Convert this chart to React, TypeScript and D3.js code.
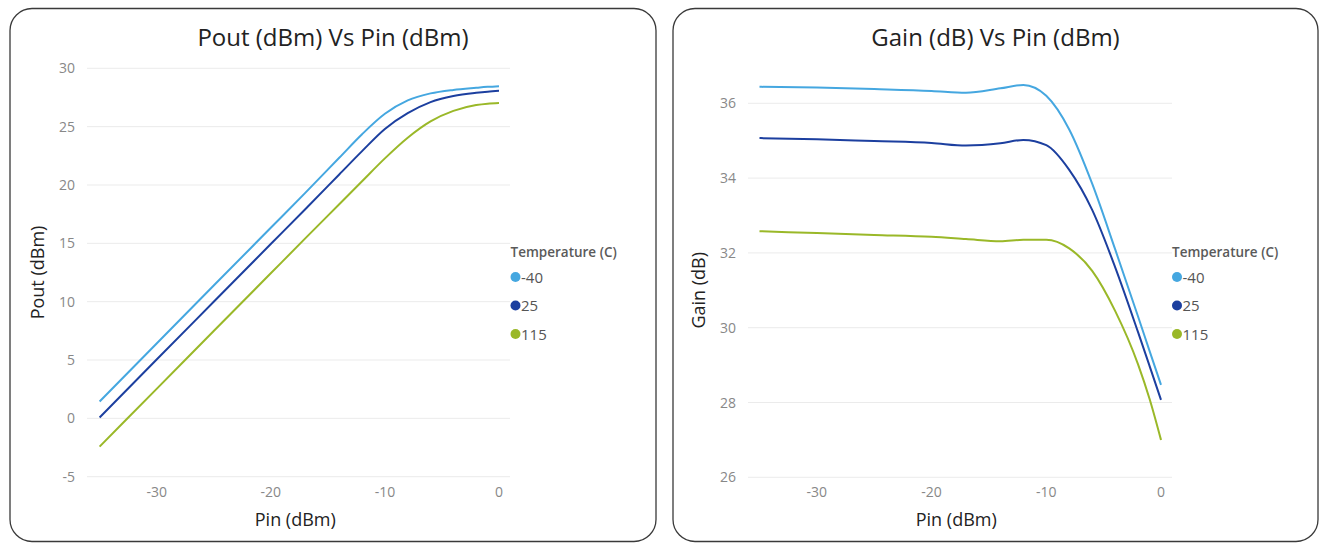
import React from "react";
import * as d3 from "d3";

// ---- data ----
const PIN = [-35, -30, -25, -20, -17, -14, -12, -10, -8, -6, -4, -2, -1, 0];
const TEMPS = ["-40", "25", "115"];
const COLORS = ["#45a7e0", "#1c3f9f", "#9ab828"];

const POUT_M40 = [1.44, 6.42, 11.38, 16.33, 19.3, 22.33, 24.35, 26.1, 27.25, 27.85, 28.15, 28.33, 28.41, 28.47];
const POUT_25 = [0.07, 5.04, 9.99, 14.94, 17.9, 20.9, 22.9, 24.8, 26.15, 27.1, 27.62, 27.9, 28.0, 28.07];
const POUT_115 = [-2.42, 2.53, 7.48, 12.43, 15.4, 18.35, 20.32, 22.28, 24.05, 25.45, 26.35, 26.85, 26.97, 27.02];

const GAIN_M40 = [36.44, 36.42, 36.38, 36.33, 36.28, 36.4, 36.49, 36.2, 35.3, 33.85, 32.1, 30.3, 29.38, 28.47];
const GAIN_25 = [35.07, 35.04, 34.99, 34.94, 34.87, 34.93, 35.02, 34.88, 34.22, 33.15, 31.62, 29.88, 28.98, 28.07];
const GAIN_115 = [32.58, 32.53, 32.48, 32.43, 32.37, 32.31, 32.35, 32.35, 32.12, 31.52, 30.45, 29.02, 28.1, 27.0];

const X_TICKS = [-30, -20, -10, 0];
const POUT_TICKS = [-5, 0, 5, 10, 15, 20, 25, 30];
const GAIN_TICKS = [26, 28, 30, 32, 34, 36];

const FONT = "'Open Sans', 'Noto Sans', sans-serif";

type PanelProps = {
  px: number;
  pw: number;
  title: string;
  yTitle: string;
  xRange: [number, number];
  yDomain: [number, number];
  yRange: [number, number];
  gridX: [number, number];
  yTicks: number[];
  series: number[][];
  legendX: number;
  yTitleX: number;
};

function Panel(p: PanelProps) {
  const x = d3.scaleLinear().domain([-35, 0]).range(p.xRange);
  const y = d3.scaleLinear().domain(p.yDomain).range(p.yRange);
  const line = d3
    .line<number>()
    .x((_, i) => x(PIN[i]))
    .y((d) => y(d))
    .curve(d3.curveMonotoneX);
  const cx = p.px + p.pw / 2;
  const plotCx = (p.xRange[0] + p.xRange[1]) / 2;
  const yMid = (p.yRange[0] + p.yRange[1]) / 2;
  return (
    <g>
      <rect x={p.px} y={8.5} width={p.pw} height={533} rx={22} ry={22} fill="#fff" stroke="#3a3a3a" strokeWidth={1.3} />
      <text x={cx} y={46} textAnchor="middle" fontSize={24} fill="#222" fontFamily={FONT}>
        {p.title}
      </text>
      {p.yTicks.map((t) => (
        <g key={t}>
          <line x1={p.gridX[0]} x2={p.gridX[1]} y1={y(t)} y2={y(t)} stroke="#ebebeb" strokeWidth={1} />
          <text x={p.gridX[0] - 12} y={y(t) + 5} textAnchor="end" fontSize={14} fill="#888" fontFamily={FONT}>
            {t}
          </text>
        </g>
      ))}
      {X_TICKS.map((t) => (
        <text key={t} x={x(t)} y={497} textAnchor="middle" fontSize={14} fill="#888" fontFamily={FONT}>
          {t}
        </text>
      ))}
      <text x={plotCx - 4} y={526} textAnchor="middle" fontSize={18} fill="#222" fontFamily={FONT}>
        Pin (dBm)
      </text>
      <text
        transform={`translate(${p.yTitleX},${yMid}) rotate(-90)`}
        textAnchor="middle"
        fontSize={18}
        fill="#222"
        fontFamily={FONT}
      >
        {p.yTitle}
      </text>
      {p.series.map((s, i) => (
        <path key={i} d={line(s) || ""} fill="none" stroke={COLORS[i]} strokeWidth={2} />
      ))}
      <text x={p.legendX - 5} y={257} fontSize={13.5} fontWeight={600} fill="#5a5a5a" fontFamily={FONT}>
        Temperature (C)
      </text>
      {TEMPS.map((t, i) => (
        <g key={t}>
          <circle cx={p.legendX} cy={277 + i * 28.5} r={5} fill={COLORS[i]} />
          <text x={p.legendX + 5.5} y={282.5 + i * 28.5} fontSize={15} fill="#555" fontFamily={FONT}>
            {t}
          </text>
        </g>
      ))}
    </g>
  );
}

export default function App() {
  return (
    <svg
      width={1328}
      height={544}
      style={{ position: "absolute", left: 0, top: 0, display: "block", background: "#fff" }}
    >
      <Panel
        px={10}
        pw={646}
        title="Pout (dBm) Vs Pin (dBm)"
        yTitle="Pout (dBm)"
        xRange={[99.6, 499]}
        yDomain={[-5, 30]}
        yRange={[476.7, 68.3]}
        gridX={[87, 510]}
        yTicks={POUT_TICKS}
        series={[POUT_M40, POUT_25, POUT_115]}
        legendX={515.5}
        yTitleX={44}
      />
      <Panel
        px={673}
        pw={645}
        title="Gain (dB) Vs Pin (dBm)"
        yTitle="Gain (dB)"
        xRange={[759.5, 1161]}
        yDomain={[26, 36]}
        yRange={[477.3, 103.3]}
        gridX={[748, 1172]}
        yTicks={GAIN_TICKS}
        series={[GAIN_M40, GAIN_25, GAIN_115]}
        legendX={1177}
        yTitleX={705}
      />
    </svg>
  );
}
